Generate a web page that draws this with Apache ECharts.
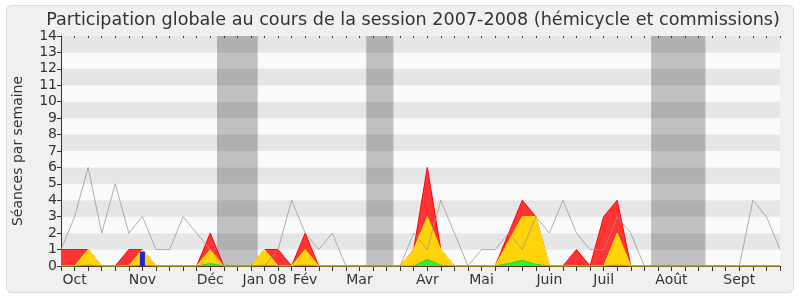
<!DOCTYPE html>
<html><head><meta charset="utf-8">
<script src="https://cdn.jsdelivr.net/npm/echarts@6/dist/echarts.min.js"></script>
<style>html,body{margin:0;padding:0;background:#fff}#c{width:800px;height:300px}</style>
</head><body><div id="c"></div>
<script>
// 54 weeks of the 2007-2008 session
const weeks = Array.from({length: 54}, (_, i) => 'S' + (i + 1));
const tickLabels = ['', 'Oct', '', '', '', '', 'Nov', '', '', '', '', 'Déc', '', '', '', 'Jan 08', '', '', 'Fév', '', '', '', 'Mar', '', '', '', '', 'Avr', '', '', '', 'Mai', '', '', '', '', 'Juin', '', '', '', 'Juil', '', '', '', '', 'Août', '', '', '', '', 'Sept', '', '', ''];
const presences = [1,1,1,0,0,1,1,0,0,0,0,2,0,0,0,1,1,0,2,0,0,0,0,0,0,0,1,6,1,0,0,0,0,2,4,3,0,0,1,0,3,4,0,0,0,0,0,0,0,0,0,0,0,0];
const participations = [0,0,1,0,0,0,1,0,0,0,0,1,0,0,0,1,0,0,1,0,0,0,0,0,0,0,1,3,1,0,0,0,0,1.5,3,3,0,0,0,0,0,2,0,0,0,0,0,0,0,0,0,0,0,0];
const interventions = [0,0,0.05,0,0,0,0.05,0,0,0,0,0.15,0,0,0,0.05,0,0,0.05,0,0,0,0,0,0,0,0,0.4,0.05,0,0,0,0,0.15,0.35,0.1,0,0,0,0,0,0.05,0,0,0,0,0,0,0,0,0,0,0,0];
const questions = [0,0,0,0,0,0,0.87,0,0,0,0,0,0,0,0,0,0,0,0,0,0,0,0,0,0,0,0,0,0,0,0,0,0,0,0,0,0,0,0,0,0,0,0,0,0,0,0,0,0,0,0,0,0,0];
const mediane = [1,3,6,2,5,2,3,1,1,3,2,1,0,0,0,0,1,4,2,1,2,0,0,0,0,0,2,1,4,2,0,1,1,2,1,3,2,4,2,1,1,3,2,0,0,0,0,0,0,0,0,4,3,1];
const vacances = [[11.5, 14.5], [22.5, 24.5], [43.5, 47.5]];
const yTicks = [0,1,2,3,4,5,6,7,8,9,10,11,12,13,14];

const chart = echarts.init(document.getElementById('c'), null, {renderer: 'canvas'});
const FONT = 'DejaVu Sans';
const grid = {left: 61, right: 20, top: 36, bottom: 34};
chart.setOption({
  animation: false,
  backgroundColor: '#fff',
  textStyle: {fontFamily: FONT},
  graphic: [{
    type: 'rect', z: -10, silent: true,
    shape: {x: 6.5, y: 5.5, width: 787, height: 287, r: 5},
    style: {fill: '#f0f0f0', stroke: '#dcdcdc', lineWidth: 1}
  }],
  title: {
    text: 'Participation globale au cours de la session 2007-2008 (hémicycle et commissions)',
    left: 408, top: 6, textAlign: 'center',
    textStyle: {fontFamily: FONT, fontSize: 17.6, fontWeight: 'normal', color: '#333'}
  },
  grid: grid,
  xAxis: [{
    type: 'category', data: weeks, boundaryGap: false,
    axisLine: {lineStyle: {color: '#6a2a20', width: 1}},
    axisTick: {show: true, interval: 0, length: 5, lineStyle: {color: '#333'}},
    axisLabel: {interval: 0, margin: 7, fontSize: 14, color: '#333', fontFamily: FONT,
      formatter: (v, i) => tickLabels[i]},
    splitLine: {show: false}
  }, {
    type: 'value', min: 0, max: 53, show: false
  }, {
    type: 'category', data: weeks, boundaryGap: false, position: 'top',
    axisLine: {show: false},
    axisTick: {show: true, inside: true, interval: 0, length: 2, lineStyle: {color: '#444'}},
    axisLabel: {show: false}
  }],
  yAxis: {
    type: 'value', min: 0, max: 14, interval: 1,
    name: 'Séances par semaine', nameLocation: 'middle', nameGap: 36,
    nameTextStyle: {fontFamily: FONT, fontSize: 14, color: '#333'},
    axisLine: {show: true, lineStyle: {color: '#333'}},
    axisTick: {show: true, length: 4, lineStyle: {color: '#333'}},
    axisLabel: {fontSize: 14, color: '#333', margin: 4, fontFamily: FONT,
      formatter: v => String(yTicks[v] !== undefined ? yTicks[v] : v)},
    splitLine: {show: false},
    splitArea: {show: true, areaStyle: {color: ['#fafafa', '#e6e6e6']}}
  },
  series: [{
    type: 'line', xAxisIndex: 1, data: [], silent: true, z: 1,
    markArea: {silent: true, itemStyle: {color: 'rgba(0,0,0,0.23)'},
      data: vacances.map(v => [{xAxis: v[0]}, {xAxis: v[1]}])}
  }, {
    name: 'Présences', type: 'line', data: presences, symbol: 'none', z: 3,
    lineStyle: {color: '#ff0000', width: 1},
    areaStyle: {color: '#ff3535', opacity: 1}
  }, {
    name: 'Participations', type: 'line', data: participations, symbol: 'none', z: 4,
    lineStyle: {color: '#ffe600', width: 1},
    areaStyle: {color: '#ffd20a', opacity: 1}
  }, {
    name: 'Interventions', type: 'line', data: interventions, symbol: 'none', z: 5,
    lineStyle: {color: '#22dd22', width: 1},
    areaStyle: {color: '#33ee33', opacity: 1}
  }, {
    name: 'Questions', type: 'bar', data: questions, barWidth: 5, z: 6,
    itemStyle: {color: '#2020e0'}
  }, {
    name: 'Médiane', type: 'line', data: mediane, symbol: 'none', z: 7,
    lineStyle: {color: 'rgba(150,150,150,0.75)', width: 1}
  }]
});
</script></body></html>
